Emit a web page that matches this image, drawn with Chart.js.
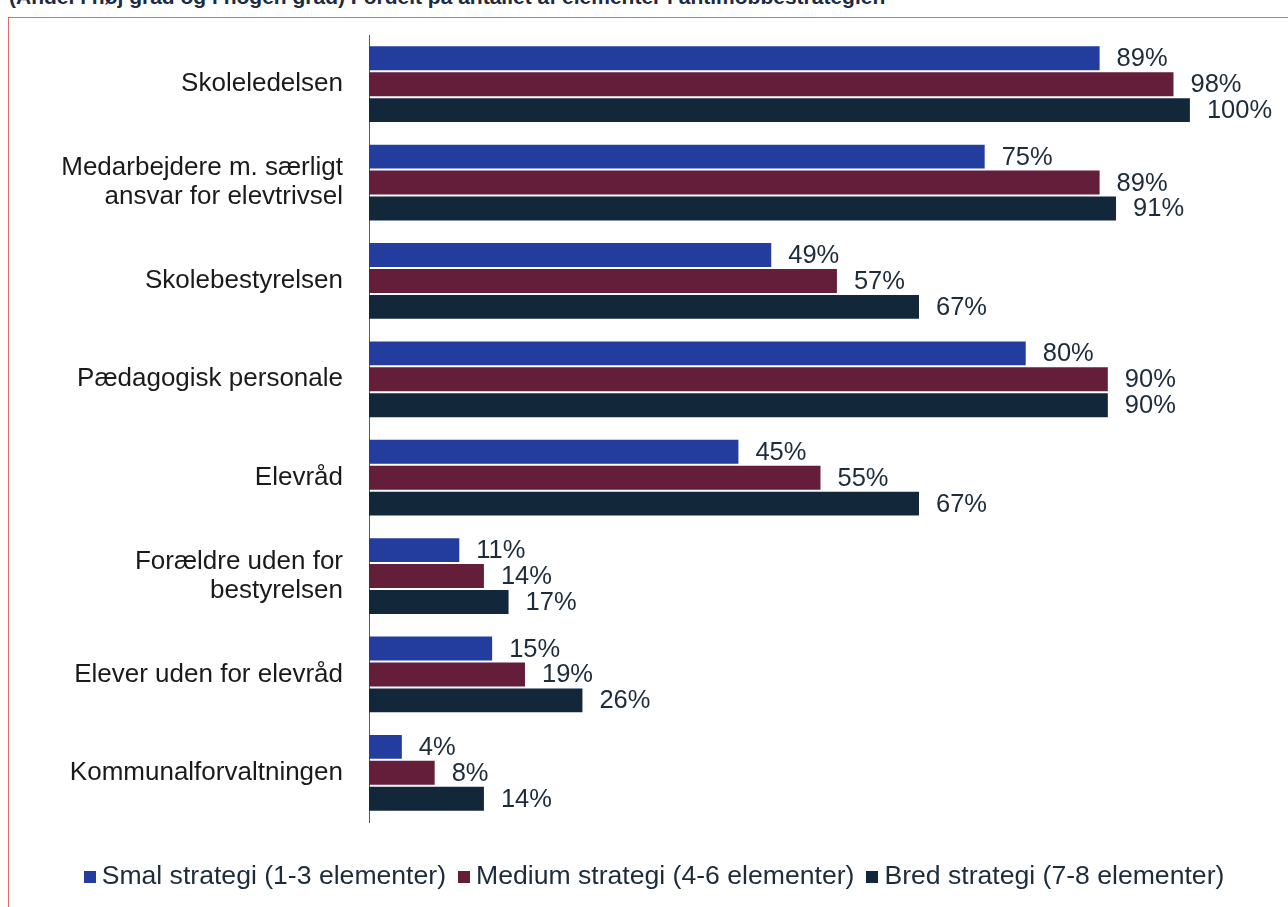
<!DOCTYPE html>
<html>
<head>
<meta charset="utf-8">
<script src="https://cdn.jsdelivr.net/npm/chart.js@4"></script>
<style>
  html, body { margin: 0; padding: 0; background: #fff; }
  body { width: 1288px; height: 907px; position: relative; overflow: hidden; font-family: "Liberation Sans", Arial, sans-serif; }
  #title { position: absolute; left: 9px; top: -15px; font: bold 21px "Liberation Sans Narrow", "Liberation Sans", Arial, sans-serif; color: #1c2a44; white-space: nowrap; }
  #frame { position: absolute; left: 8px; top: 17px; width: 1300px; height: 900px; border: 1px solid #e36a6a; box-sizing: border-box; }
  #wrap { position: absolute; left: 0; top: 0; width: 1288px; height: 907px; }
  #legend { position: absolute; left: 0; top: 860px; width: 1288px; display: flex; justify-content: center; padding-left: 32px; box-sizing: border-box; font-size: 26.6px; color: #1d2b3a; }
  .item { display: flex; align-items: center; margin-right: 12px; white-space: nowrap; }
  .box { width: 12px; height: 12px; margin-right: 6px; margin-top: 2px; }
</style>
</head>
<body>
<div id="title">(Andel i høj grad og i nogen grad) Fordelt på antallet af elementer i antimobbestrategien</div>
<div id="frame"></div>
<div id="wrap"><canvas id="groupChart"></canvas></div>
<div id="legend"></div>
<script>
// Data
const categories = [
    'Skoleledelsen',
    ['Medarbejdere m. særligt', 'ansvar for elevtrivsel'],
    'Skolebestyrelsen',
    'Pædagogisk personale',
    'Elevråd',
    ['Forældre uden for', 'bestyrelsen'],
    'Elever uden for elevråd',
    'Kommunalforvaltningen'
];
const seriesNames = ['Smal strategi (1-3 elementer)', 'Medium strategi (4-6 elementer)', 'Bred strategi (7-8 elementer)'];
const smalValues = [89, 75, 49, 80, 45, 11, 15, 4];
const mediumValues = [98, 89, 57, 90, 55, 14, 19, 8];
const bredValues = [100, 91, 67, 90, 67, 17, 26, 14];
const seriesColors = ['#233d9f', '#641e3a', '#13273a'];

// Percentage labels at the end of each bar
const valueLabels = {
    id: 'valueLabels',
    afterDatasetsDraw(chart) {
        const c = chart.ctx;
        c.save();
        c.font = '25.5px "Liberation Sans", Arial, sans-serif';
        c.fillStyle = '#1d2b3a';
        c.textAlign = 'left';
        c.textBaseline = 'middle';
        chart.data.datasets.forEach((ds, i) => {
            chart.getDatasetMeta(i).data.forEach((bar, j) => {
                c.fillText(ds.data[j] + '%', bar.x + 17, bar.y + 1);
            });
        });
        c.restore();
    }
};

const allValues = [smalValues, mediumValues, bredValues];
const ctx = document.getElementById('groupChart').getContext('2d');
const groupChart = new Chart(ctx, {
    type: 'bar',
    data: {
        labels: categories,
        datasets: allValues.map((vals, i) => ({
            label: seriesNames[i],
            data: vals,
            backgroundColor: seriesColors[i],
            categoryPercentage: 0.79,
            barPercentage: 0.923
        }))
    },
    options: {
        indexAxis: 'y',
        responsive: true,
        maintainAspectRatio: false,
        animation: false,
        layout: { padding: { top: 35, right: 16, bottom: 85, left: 0 } },
        scales: {
            x: {
                display: false,
                min: 0,
                max: 110
            },
            y: {
                afterFit(scale) {
                    scale.width = 369;
                    scale.paddingTop = 0; // don't let the tall labels push the plot down
                    scale.paddingBottom = 0;
                },
                grid: { display: false, drawTicks: false },
                border: { display: true, color: '#5a5a5a', width: 1 },
                ticks: {
                    padding: 26,
                    color: '#1a1a1a',
                    font: { size: 26, family: '"Liberation Sans", Arial, sans-serif', lineHeight: 1.1 }
                }
            }
        },
        plugins: {
            legend: { display: false },
            tooltip: { enabled: false }
        }
    },
    plugins: [valueLabels]
});

// Legend below the chart
const legendEl = document.getElementById('legend');
seriesNames.forEach((name, i) => {
    const item = document.createElement('div');
    item.className = 'item';
    item.innerHTML = '<span class="box" style="background:' + seriesColors[i] + '"></span>' + name;
    legendEl.appendChild(item);
});
</script>
</body>
</html>
